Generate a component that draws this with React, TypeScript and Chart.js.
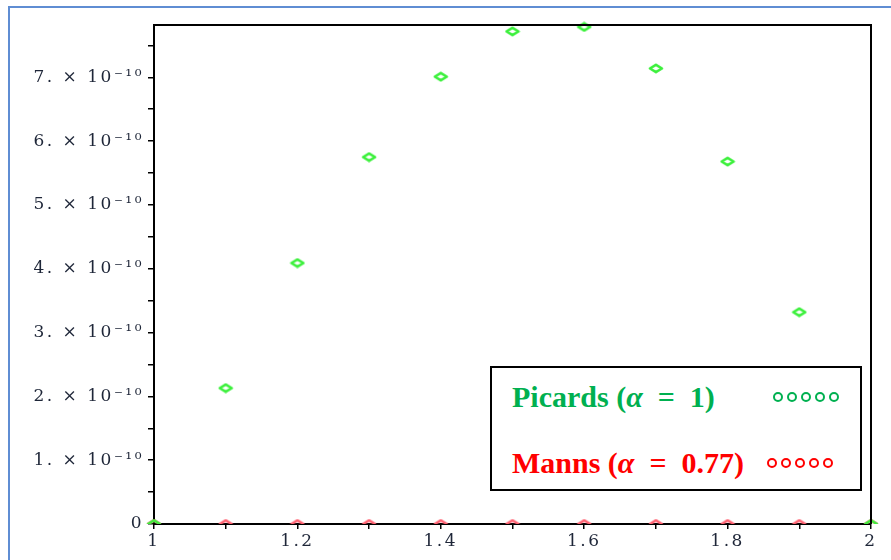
import React, { useEffect, useRef } from "react";
import { Chart, registerables } from "chart.js";

Chart.register(...registerables);

// ---- data ----
const xValues = [1, 1.1, 1.2, 1.3, 1.4, 1.5, 1.6, 1.7, 1.8, 1.9, 2];
const picardValues = [0, 2.13e-10, 4.09e-10, 5.75e-10, 7.01e-10, 7.72e-10, 7.79e-10, 7.14e-10, 5.68e-10, 3.32e-10, 0];
const mannValues = [0, 0, 0, 0, 0, 0, 0, 0, 0, 0, 0];

const xTickValues = [1, 1.1, 1.2, 1.3, 1.4, 1.5, 1.6, 1.7, 1.8, 1.9, 2];
const xTickLabels = ["1", "", "1.2", "", "1.4", "", "1.6", "", "1.8", "", "2"];

const yTickValues = [0, 0.5e-10, 1e-10, 1.5e-10, 2e-10, 2.5e-10, 3e-10, 3.5e-10, 4e-10, 4.5e-10, 5e-10, 5.5e-10, 6e-10, 6.5e-10, 7e-10, 7.5e-10];
const yTickLabels = [
  "0", "",
  "1. × 10⁻¹⁰", "",
  "2. × 10⁻¹⁰", "",
  "3. × 10⁻¹⁰", "",
  "4. × 10⁻¹⁰", "",
  "5. × 10⁻¹⁰", "",
  "6. × 10⁻¹⁰", "",
  "7. × 10⁻¹⁰", "",
];

const seriesNames = ["Picards (α = 1)", "Manns (α = 0.77)"];

function makeDiamond(color: string): HTMLCanvasElement {
  const c = document.createElement("canvas");
  c.width = 16;
  c.height = 11;
  const g = c.getContext("2d")!;
  g.strokeStyle = color;
  g.lineWidth = 2.6;
  g.lineJoin = "round";
  g.beginPath();
  g.moveTo(2, 5.5);
  g.lineTo(8, 1.8);
  g.lineTo(14, 5.5);
  g.lineTo(8, 9.2);
  g.closePath();
  g.stroke();
  return c;
}

const labelColor = "#1e2638";
const tickFont = { family: "'DejaVu Serif', serif", size: 17 };

export default function App() {
  const ref = useRef<HTMLCanvasElement | null>(null);

  useEffect(() => {
    if (!ref.current) return;
    const greenMark = makeDiamond("#3cf03c");
    const redMark = makeDiamond("#ff6070");

    const framePlugin = {
      id: "frame",
      beforeDraw(chart: any) {
        chart.ctx.letterSpacing = "2.5px";
      },
      afterDraw(chart: any) {
        const { ctx, chartArea } = chart;
        ctx.letterSpacing = "0px";
        ctx.save();
        ctx.strokeStyle = "#000";
        ctx.lineWidth = 2;
        ctx.beginPath();
        ctx.moveTo(chartArea.left, chartArea.top);
        ctx.lineTo(chartArea.right, chartArea.top);
        ctx.lineTo(chartArea.right, chartArea.bottom);
        ctx.stroke();
        ctx.restore();
      },
    };

    const chart = new Chart(ref.current, {
      type: "scatter",
      data: {
        datasets: [
          {
            label: seriesNames[0],
            data: xValues.map((x, i) => ({ x, y: picardValues[i] })),
            pointStyle: greenMark as any,
            pointRadius: 7,
            showLine: false,
            clip: { left: false, top: false, right: false, bottom: 0 } as any,
          },
          {
            label: seriesNames[1],
            data: xValues.map((x, i) => ({ x, y: mannValues[i] })),
            pointStyle: redMark as any,
            pointRadius: 7,
            showLine: false,
            clip: { left: false, top: false, right: false, bottom: 0 } as any,
          },
        ],
      },
      options: {
        responsive: false,
        animation: false,
        layout: { padding: { left: 0, top: 25, right: 20, bottom: 0 } },
        plugins: { legend: { display: false }, tooltip: { enabled: false } },
        scales: {
          x: {
            type: "linear",
            min: 1,
            max: 2,
            z: 1,
            border: { display: true, color: "#000", width: 2 },
            grid: { display: true, drawOnChartArea: false, drawTicks: true, tickLength: 5, color: "#000", lineWidth: 1.5 },
            ticks: {
              autoSkip: false,
              maxRotation: 0,
              padding: 2,
              color: labelColor,
              font: tickFont,
              callback: (_v: any, i: number) => xTickLabels[i] ?? "",
            },
            afterBuildTicks: (s: any) => {
              s.ticks = xTickValues.map((v) => ({ value: v }));
            },
            afterFit: (s: any) => {
              s.height = 36;
            },
          },
          y: {
            type: "linear",
            min: 0,
            max: 7.82e-10,
            z: 1,
            border: { display: true, color: "#000", width: 2 },
            grid: { display: true, drawOnChartArea: false, drawTicks: true, tickLength: 6, color: "#000", lineWidth: 1.5 },
            ticks: {
              autoSkip: false,
              padding: 4,
              color: labelColor,
              font: tickFont,
              callback: (_v: any, i: number) => yTickLabels[i] ?? "",
            },
            afterBuildTicks: (s: any) => {
              s.ticks = yTickValues.map((v) => ({ value: v }));
            },
            afterFit: (s: any) => {
              s.width = 154;
            },
          },
        },
      },
      plugins: [framePlugin],
    });
    return () => chart.destroy();
  }, []);

  const circles = (color: string) => (
    <span style={{ display: "flex", gap: 4 }}>
      {[0, 1, 2, 3, 4].map((k) => (
        <span
          key={k}
          style={{
            display: "block",
            width: 6,
            height: 6,
            borderRadius: "50%",
            border: `2px solid ${color}`,
          }}
        />
      ))}
    </span>
  );

  const legendText: React.CSSProperties = {
    position: "absolute",
    fontFamily: "'Liberation Serif', serif",
    fontWeight: "bold",
    fontSize: 30,
    whiteSpace: "nowrap",
    lineHeight: "34px",
  };

  return (
    <div style={{ position: "absolute", left: 0, top: 0, width: 891, height: 560, overflow: "hidden", background: "#fff" }}>
      <div
        style={{
          position: "absolute",
          left: 8,
          top: 6,
          width: 1000,
          height: 1000,
          borderTop: "2px solid #5f8dd3",
          borderLeft: "2px solid #5f8dd3",
        }}
      />
      <canvas ref={ref} width={891} height={560} style={{ position: "absolute", left: 0, top: 0, width: 891, height: 560 }} />
      <div
        style={{
          position: "absolute",
          left: 490,
          top: 366,
          width: 368,
          height: 121,
          border: "2px solid #000",
          background: "#fff",
        }}
      >
        <div style={{ ...legendText, left: 20, top: 12, color: "#00b050" }}>
          Picards (<i>α</i>{"\u2002=\u2002"}1)
        </div>
        <div style={{ position: "absolute", left: 281, top: 24 }}>{circles("#00b050")}</div>
        <div style={{ ...legendText, left: 20, top: 78, color: "#ff0000" }}>
          Manns (<i>α</i>{"\u2002=\u2002"}0.77)
        </div>
        <div style={{ position: "absolute", left: 275, top: 90 }}>{circles("#ff0000")}</div>
      </div>
    </div>
  );
}
